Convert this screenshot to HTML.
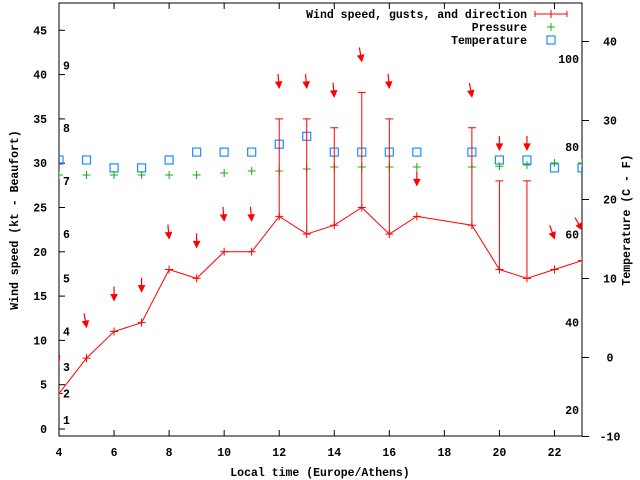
<!DOCTYPE html>
<html><head><meta charset="utf-8"><style>
body{margin:0;background:#fff}
svg{display:block;font-family:"Liberation Mono","DejaVu Sans Mono",monospace;font-weight:bold;font-size:11.5px}
</style></head><body>
<svg id="c" width="640" height="480" viewBox="0 0 640 480"></svg>
<script>
const hours=[4,5,6,7,8,9,10,11,12,13,14,15,16,17,19,20,21,22,23];
const windKt=[4,8,11,12,18,17,20,20,24,22,23,25,22,24,23,18,17,18,19];
const gustKt=[null,null,null,null,null,null,null,null,35,35,34,38,35,null,34,28,28,null,null];
const dirDeg=[340,350,0,0,355,0,355,355,355,355,355,350,355,0,350,0,0,340,330];
const pressHours=[4,5,6,7,8,9,10,11,12,13,14,15,16,17,19,20,21,22,23];
const pressHpa=[1012,1012,1012,1012,1012,1012,1012.5,1013,1013,1013.5,1014,1014,1014,1014,1014,1014.2,1014.5,1015,1015];
const tempHours=[4,5,6,7,8,9,10,11,12,13,14,15,16,17,19,20,21,22,23];
const tempC=[25,25,24,24,25,26,26,26,27,28,26,26,26,26,26,25,25,24,24];
const xTicks=[4,6,8,10,12,14,16,18,20,22];
const yTicks=[0,5,10,15,20,25,30,35,40,45];
const cTicks=[-10,0,10,20,30,40];
const fLabels=[20,40,60,80,100];
const bftLabels=[1,2,3,4,5,6,7,8,9];
const bftKt=[1,4,7,11,17,22,28,34,41];

const L=59,R=582,T=3,B=436;
const X=h=>L+(h-4)*(R-L)/19;
const Y=v=>429-v*8.86;
const YC=c=>436.5-(c+10)*7.9;
const YP=p=>175-(p-1012)*4;
const svg=document.getElementById('c');
const NS='http://www.w3.org/2000/svg';
function mk(t,a,p){const e=document.createElementNS(NS,t);for(const k in a)e.setAttribute(k,a[k]);(p||svg).appendChild(e);return e;}
function txt(x,y,s,anchor,p){const e=mk('text',{x:x,y:y,'text-anchor':anchor||'middle'},p);e.textContent=s;return e;}

const fr=mk('rect',{x:L,y:T,width:R-L,height:B-T,fill:'none',stroke:'#000','stroke-width':1});



xTicks.forEach(h=>{
  const x=X(h);
  mk('line',{x1:x,y1:B,x2:x,y2:B-6,stroke:'#000'});
  mk('line',{x1:x,y1:T,x2:x,y2:T+6,stroke:'#000'});
  const t=txt(x,456,String(h));
  
  
});
yTicks.forEach(v=>{
  const y=Y(v);
  mk('line',{x1:L,y1:y,x2:L+6,y2:y,stroke:'#000'});
  const t=txt(47,y+4,String(v),'end');
  
  
});
cTicks.forEach(c=>{
  const y=YC(c);
  mk('line',{x1:R,y1:y,x2:R+7,y2:y,stroke:'#000'});
  const t=txt(610,y+4,String(c),'middle');
  
  
});
fLabels.forEach(f=>{
  const t=txt(579,YC((f-32)/1.8)+4,String(f),'end');
  
  
});
bftLabels.forEach((b,i)=>{
  const t=txt(63,Y(bftKt[i])+4,String(b),'start');
  
  
});

let t=txt(320,476,'Local time (Europe/Athens)');


t=txt(0,0,'Wind speed (kt - Beaufort)');t.setAttribute('transform','translate(18,220) rotate(-90)');


t=txt(0,0,'Temperature (C - F)');t.setAttribute('transform','translate(630,220) rotate(-90)');



const defs=mk('defs',{});
const cp=mk('clipPath',{id:'pc'},defs);mk('rect',{x:L,y:T,width:R-L,height:B-T},cp);
const g=mk('g',{'clip-path':'url(#pc)'});



function plus(x,y,col,p){mk('path',{d:`M${x-4},${y}h8M${x},${y-4}v8`,stroke:col,'stroke-width':1},p);}

tempHours.forEach((h,i)=>{
  const r=mk('rect',{x:X(h)-4,y:YC(tempC[i])-4,width:8,height:8,fill:'none',stroke:'#1e8cff','stroke-width':1.2},g);
  
  
});
pressHours.forEach((h,i)=>{plus(X(h),YP(pressHpa[i]),'#10b010',g);});

const wl=mk('polyline',{points:hours.map((h,i)=>X(h)+','+Y(windKt[i])).join(' '),fill:'none',stroke:'#f00','stroke-width':1},g);


hours.forEach((h,i)=>{
  const x=X(h),y=Y(windKt[i]);
  plus(x,y,'#f00',g);
  const gk=gustKt[i];
  if(gk!=null){
    const gy=Y(gk);
    const eb=mk('path',{d:`M${x},${y}V${gy}M${x-4},${gy}h8`,stroke:'#f00','stroke-width':1},g);
    
    
  }
  const top=(gk!=null?Math.max(gk,windKt[i]):windKt[i])+3.5;
  const ty=Y(top);
  const a=dirDeg[i]*Math.PI/180;
  const dx=-Math.sin(a),dy=Math.cos(a);
  const len=14;
  const tx=x-dx*len,tyy=ty-dy*len;
  const ag=mk('g',{},g);
  
  
  mk('line',{x1:tx,y1:tyy,x2:x,y2:ty,stroke:'#f00','stroke-width':1.2},ag);
  const px=-dy,py=dx;
  mk('polygon',{points:`${x},${ty} ${x-dx*6+px*3},${ty-dy*6+py*3} ${x-dx*6-px*3},${ty-dy*6-py*3}`,fill:'#f00',stroke:'#f00'},ag);
});

const lg=mk('g',{});


const entries=['Wind speed, gusts, and direction','Pressure','Temperature'];
entries.forEach((s,i)=>{
  const y=14+i*13;
  const te=txt(527,y+4,s,'end',lg);
  
  
});
mk('path',{d:'M535,14h32M535,11v6M567,11v6M551,10v8',stroke:'#f00'},lg);
plus(551,27,'#10b010',lg);
mk('rect',{x:547,y:36,width:8,height:8,fill:'none',stroke:'#1e8cff','stroke-width':1.2},lg);
</script>
</body></html>
